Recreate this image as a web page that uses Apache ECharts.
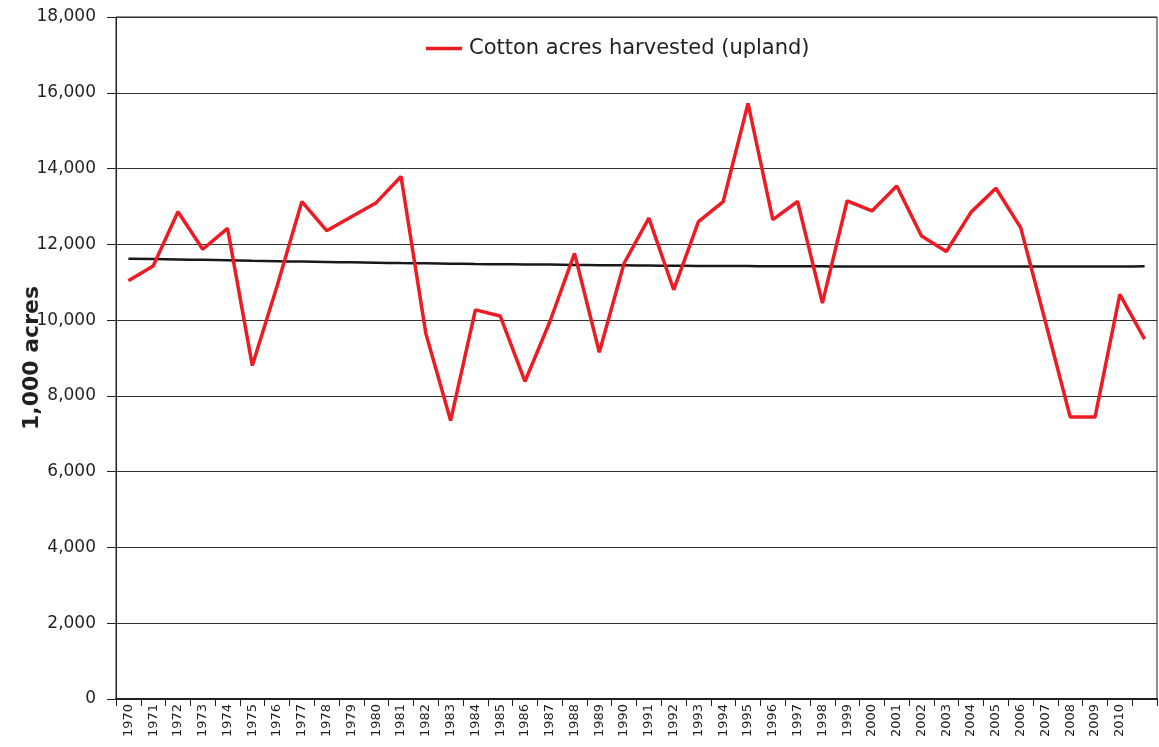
<!DOCTYPE html>
<html>
<head>
<meta charset="utf-8">
<script src="https://cdn.jsdelivr.net/npm/echarts@6/dist/echarts.min.js"></script>
<style>
  html, body { margin: 0; padding: 0; background: #fff; }
  #main { width: 1159px; height: 747px; }
</style>
</head>
<body>
<div id="main"></div>
<script>
// years 1970-2011, last one has no label on the axis
var years = [];
for (var y = 1970; y <= 2011; y++) years.push(String(y));
var yearLabels = years.map(function (v) { return v === '2011' ? '' : v; });

// upland cotton acres harvested, 1,000 acres
var harvested = [
  11040, 11430, 12860, 11870, 12420, 8800, 10900, 13130, 12360, 12730,
  13100, 13790, 9650, 7350, 10270, 10110, 8380, 9950, 11760, 9150,
  11500, 12690, 10800, 12600, 13130, 15720, 12650, 13130, 10450, 13150,
  12880, 13540, 12220, 11810, 12850, 13480, 12440, 9950, 7440, 7440,
  10680, 9500
];

// trend line
var trend = [
  11620, 11610, 11600, 11590, 11580, 11565, 11555, 11545, 11535, 11525,
  11515, 11505, 11500, 11490, 11480, 11475, 11470, 11465, 11455, 11450,
  11445, 11440, 11435, 11430, 11430, 11425, 11420, 11420, 11420, 11415,
  11415, 11415, 11415, 11415, 11415, 11415, 11415, 11415, 11415, 11415,
  11415, 11420
];

var chartDom = document.getElementById('main');
var myChart = echarts.init(chartDom);
var option;

option = {
  animation: false,
  textStyle: { fontFamily: 'DejaVu Sans', color: '#231f20' },
  grid: {
    left: 116, right: 2, top: 17, bottom: 48,
    outerBoundsMode: 'none',
    containLabel: false,
    show: true, borderColor: '#231f20', borderWidth: 1, backgroundColor: 'transparent'
  },
  legend: {
    data: [{ name: 'Cotton acres harvested (upland)', icon: 'rect' }],
    left: 421, top: 33,
    itemWidth: 36, itemHeight: 3.5, itemGap: 10,
    textStyle: { fontSize: 21, color: '#231f20', fontFamily: 'DejaVu Sans', padding: [0, 0, 0, 2] }
  },
  xAxis: {
    type: 'category',
    data: yearLabels,
    boundaryGap: true,
    axisLine: { lineStyle: { color: '#231f20', width: 2 } },
    axisTick: { show: true, length: 7, interval: 0, lineStyle: { color: '#231f20' } },
    axisLabel: { interval: 0, rotate: 90, fontSize: 13, color: '#231f20', margin: 5 },
    splitLine: { show: false }
  },
  yAxis: {
    type: 'value',
    min: 0, max: 18000, interval: 2000,
    name: '1,000 acres',
    nameLocation: 'middle',
    nameGap: 73,
    nameMoveOverlap: false,
    nameTextStyle: { fontSize: 22, fontWeight: 'bold', color: '#231f20' },
    axisLine: { show: true, lineStyle: { color: '#231f20', width: 1 } },
    axisTick: { show: true, length: 9, lineStyle: { color: '#231f20' } },
    axisLabel: {
      fontSize: 17, color: '#231f20', margin: 20,
      formatter: function (v) { return v.toLocaleString('en-US'); }
    },
    splitLine: { show: true, lineStyle: { color: '#333', width: 1.2 } }
  },
  series: [
    {
      name: 'Cotton acres harvested (upland)',
      type: 'line',
      data: harvested,
      symbol: 'none',
      lineStyle: { color: '#ed1c24', width: 3.5 },
      itemStyle: { color: '#ed1c24' },
      z: 3
    },
    {
      name: 'trend',
      type: 'line',
      data: trend,
      symbol: 'none',
      smooth: true,
      lineStyle: { color: '#1a1718', width: 2.5 },
      itemStyle: { color: '#1a1718' },
      z: 2
    }
  ]
};

option && myChart.setOption(option);
</script>
</body>
</html>
